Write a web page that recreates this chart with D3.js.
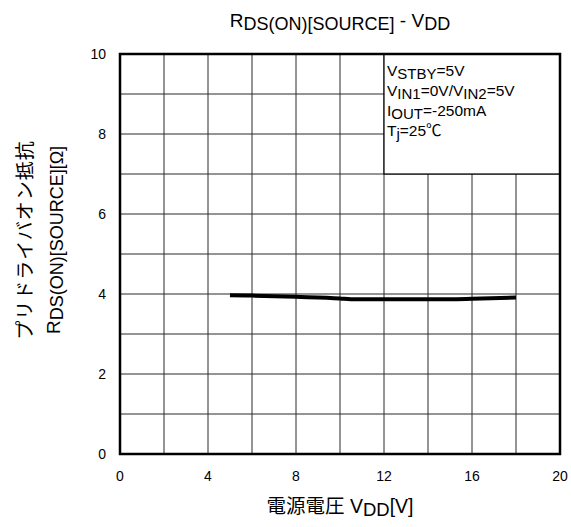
<!DOCTYPE html>
<html>
<head>
<meta charset="utf-8">
<script src="https://cdn.jsdelivr.net/npm/d3@7"></script>
<style>
  body { margin: 0; background: #fff; }
  text { font-family: Arial, "Liberation Sans", "Noto Sans CJK JP", sans-serif; fill: #000; }
  .jp { font-family: "Noto Sans CJK JP", sans-serif; }
</style>
</head>
<body>
<div id="chart"></div>
<script>
// data
var vdd = [5, 6, 8, 10, 10.5, 12, 14, 15, 16, 18];
var rds = [3.97, 3.96, 3.93, 3.89, 3.87, 3.87, 3.87, 3.87, 3.88, 3.91];
var xTicks = [0, 4, 8, 12, 16, 20];
var yTicks = [0, 2, 4, 6, 8, 10];
var conditions = [
  [["V", 0], ["STBY", 1], ["=5V", 0]],
  [["V", 0], ["IN1", 1], ["=0V/V", 0], ["IN2", 1], ["=5V", 0]],
  [["I", 0], ["OUT", 1], ["=-250mA", 0]],
  [["T", 0], ["j", 1], ["=25\u2103", 0]]
];

var W = 571, H = 527;
var margin = {top: 54, right: 11, bottom: 73, left: 120},
    w = W - margin.left - margin.right,
    h = H - margin.top - margin.bottom;

var svg = d3.select("#chart").append("svg")
    .attr("width", W)
    .attr("height", H);

var g = svg.append("g")
    .attr("transform", "translate(" + margin.left + "," + margin.top + ")");

var x = d3.scaleLinear().domain([0, 20]).range([0, w]);
var y = d3.scaleLinear().domain([0, 10]).range([h, 0]);

// text with subscripts: each part is [string, isSub]
function richText(sel, parts, big, small, shift) {
  var cur = 0;
  parts.forEach(function(p) {
    var target = p[1] ? shift : 0;
    sel.append("tspan")
      .attr("font-size", p[1] ? small : big)
      .attr("dy", target - cur)
      .text(p[0]);
    cur = target;
  });
}

// grid
g.append("g").selectAll("line")
  .data(d3.range(2, 20, 2))
  .enter().append("line")
    .attr("x1", function(d) { return x(d); })
    .attr("x2", function(d) { return x(d); })
    .attr("y1", 0).attr("y2", h)
    .attr("stroke", "#2a2a2a").attr("stroke-width", 1);

g.append("g").selectAll("line")
  .data(d3.range(1, 10, 1))
  .enter().append("line")
    .attr("y1", function(d) { return y(d); })
    .attr("y2", function(d) { return y(d); })
    .attr("x1", 0).attr("x2", w)
    .attr("stroke", "#2a2a2a").attr("stroke-width", 1);

// condition box
g.append("rect")
  .attr("x", x(12)).attr("y", 0)
  .attr("width", w - x(12)).attr("height", y(7))
  .attr("fill", "#fff").attr("stroke", "#000").attr("stroke-width", 1.2);

conditions.forEach(function(c, i) {
  var t = g.append("text")
    .attr("x", x(12) + 3)
    .attr("y", 22 + i * 20);
  richText(t, c, 15.5, 15, 3);
});

// frame
g.append("rect")
  .attr("width", w).attr("height", h)
  .attr("fill", "none").attr("stroke", "#000").attr("stroke-width", 2.5);

// curve
var line = d3.line()
  .x(function(d, i) { return x(vdd[i]); })
  .y(function(d) { return y(d); })
  .curve(d3.curveMonotoneX);

g.append("path")
  .datum(rds)
  .attr("d", line)
  .attr("fill", "none")
  .attr("stroke", "#000")
  .attr("stroke-width", 4);

// ticks
g.append("g").selectAll("text")
  .data(xTicks)
  .enter().append("text")
    .attr("x", function(d) { return x(d); })
    .attr("y", h + 27)
    .attr("text-anchor", "middle")
    .attr("font-size", 14)
    .text(function(d) { return d; });

g.append("g").selectAll("text")
  .data(yTicks)
  .enter().append("text")
    .attr("x", -14)
    .attr("y", function(d) { return y(d) + 5; })
    .attr("text-anchor", "end")
    .attr("font-size", 14)
    .text(function(d) { return d; });

// title
var title = svg.append("text")
  .attr("x", margin.left + w / 2)
  .attr("y", 27)
  .attr("text-anchor", "middle");
richText(title, [["R", 0], ["DS(ON)[SOURCE]", 1], [" - V", 0], ["DD", 1]], 19, 18, 3);

// x axis title
var xt = svg.append("text")
  .attr("x", margin.left + w / 2)
  .attr("y", 513)
  .attr("text-anchor", "middle");
richText(xt, [["\u96fb\u6e90\u96fb\u5727 V", 0], ["DD", 1], ["[V]", 0]], 19.5, 18.5, 3);

// y axis title
svg.append("text")
  .attr("class", "jp")
  .attr("transform", "translate(32,240) rotate(-90)")
  .attr("text-anchor", "middle")
  .attr("font-size", 19)
  .attr("letter-spacing", 1)
  .text("\u30d7\u30ea\u30c9\u30e9\u30a4\u30d0\u30aa\u30f3\u62b5\u6297");

var yt2 = svg.append("text")
  .attr("transform", "translate(60,240) rotate(-90)")
  .attr("text-anchor", "middle");
richText(yt2, [["R", 0], ["DS(ON)[SOURCE][\u03a9]", 1]], 19, 18, 3);
</script>
</body>
</html>
